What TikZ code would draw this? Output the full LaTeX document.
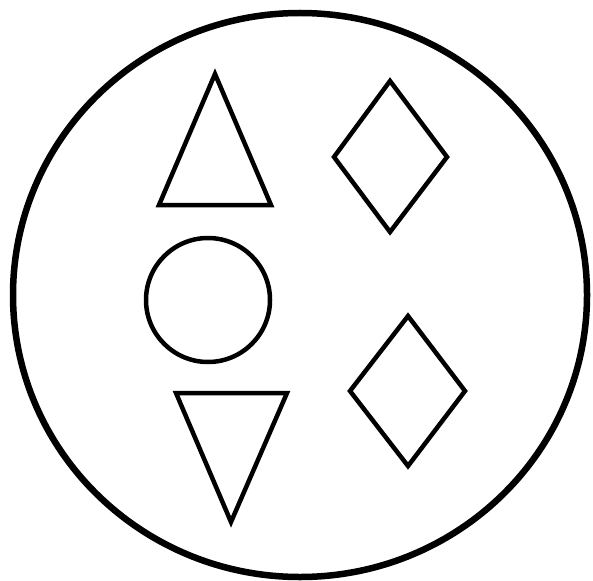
\documentclass[tikz,border=0pt]{standalone}
\usetikzlibrary{positioning}

\begin{document}
\begin{tikzpicture}[x=1pt,y=-1pt,
  outline/.style={draw=black,line width=4.5pt,line join=miter},
  frame/.style={draw=black,line width=6.5pt}]

\useasboundingbox (0,0) rectangle (593,580);

% Outer ring
\draw[frame] (300,295) ellipse (287 and 282);

% Left column
\draw[outline] (215,74) -- (271,205) -- (159,205) -- cycle;
\draw[outline] (208,300) circle (62);
\draw[outline] (176,393) -- (287,393) -- (231,522) -- cycle;

% Right column
\draw[outline] (390,81) -- (447,157) -- (390,232) -- (334,157) -- cycle;
\draw[outline] (408,316) -- (465,391) -- (408,466) -- (350,391) -- cycle;

\end{tikzpicture}
\end{document}
